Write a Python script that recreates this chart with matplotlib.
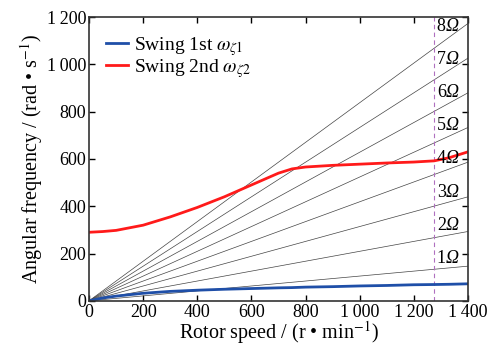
import numpy as np
import matplotlib.pyplot as plt
from matplotlib.ticker import FuncFormatter

# rotor speed (r/min) and natural frequencies (rad/s)
speed = [0, 50, 100, 200, 300, 400, 500, 600, 700, 750, 800, 900, 1000, 1100, 1200, 1275, 1330, 1400]
swing1 = [0, 12, 20, 32, 40, 45, 49, 52, 55, 56, 58, 60, 63, 65, 68, 69, 70, 72]
swing2 = [290, 293, 298, 320, 355, 395, 440, 490, 540, 558, 566, 573, 578, 583, 587, 592, 605, 630]

orders = [1, 2, 3, 4, 5, 6, 7, 8]
rated_speed = 1275

plt.rcParams['font.family'] = ['Liberation Serif', 'DejaVu Serif']
plt.rcParams['mathtext.fontset'] = 'stix'
plt.rcParams['font.size'] = 13


def spaced(v, pos):
    return '{:,}'.format(int(v)).replace(',', '\u2009')


fig = plt.figure(figsize=(4.92, 3.49), dpi=100)
ax = fig.add_axes([0.181, 0.138, 0.77, 0.813])

rpm = np.array([0, 1400])
for n in orders:
    ax.plot(rpm, n * rpm * 2 * np.pi / 60, c='#444444', lw=0.5)
    yl = n * 140 + 40
    ax.annotate(str(n), (rated_speed, yl), xytext=(2, 0), textcoords='offset points',
                ha='left', va='center', fontsize=13)
    ax.annotate('\u03a9', (rated_speed, yl), xytext=(8.5, 0), textcoords='offset points',
                ha='left', va='center', fontsize=13, style='italic')

ax.axvline(rated_speed, c='#b070c0', lw=0.8, ls=(0, (4, 3)))

ax.plot(speed, swing1, c='#1f4fa8', lw=2, label='Swing 1st $\\omega_{\\zeta1}$')
ax.plot(speed, swing2, c='#ff1a1a', lw=2, label='Swing 2nd $\\omega_{\\zeta2}$')

ax.set_xlim(0, 1400)
ax.set_ylim(0, 1200)
ax.set_xticks(range(0, 1401, 200))
ax.set_yticks(range(0, 1201, 200))
ax.xaxis.set_major_formatter(FuncFormatter(spaced))
ax.yaxis.set_major_formatter(FuncFormatter(spaced))
ax.tick_params(direction='in', top=True, right=True, length=4, width=1, pad=2)
for s in ax.spines.values():
    s.set_linewidth(1.2)
    s.set_color('#333333')

ax.set_xlabel('Rotor speed / (r • min$^{-1}$)', fontsize=14.5, labelpad=-1)
ax.set_ylabel('Angular frequency / (rad • s$^{-1}$)', fontsize=14.5, labelpad=1)

ax.legend(loc='upper left', frameon=False, fontsize=14, handlelength=1.1,
          handletextpad=0.3, labelspacing=-0.05, borderaxespad=0.3,
          bbox_to_anchor=(0.01, 0.985))

fig.savefig('out.png')
